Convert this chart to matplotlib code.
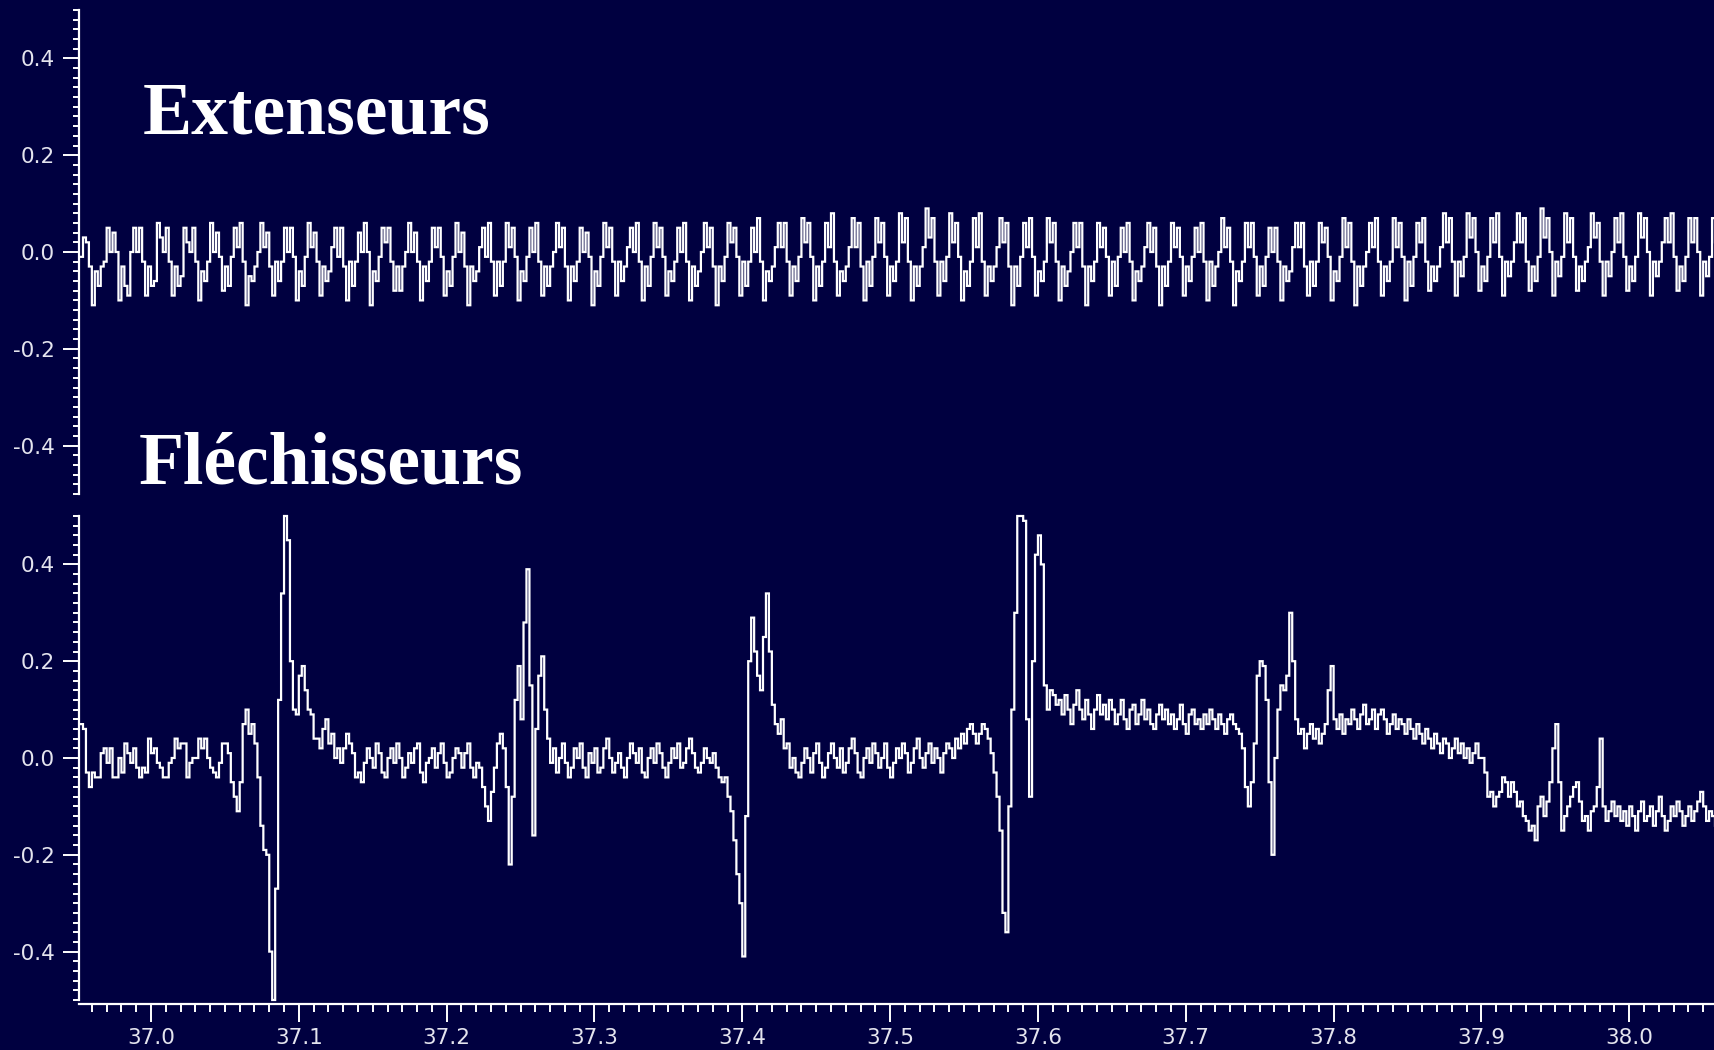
import numpy as np
import matplotlib
matplotlib.use("Agg")
import matplotlib.pyplot as plt
from matplotlib.ticker import MultipleLocator, FormatStrFormatter, FixedLocator

# Both EMG channels are sampled at 500 Hz starting at T0 (seconds)
T0 = 36.952
DT = 0.002

# Extensor channel, hundredths of a unit
extenseurs = [
    -1, 3, 2, -3, -11, -4, -7, -3, -2, 5, 0, 4, 0, -10, -3, -7, -9, 0, 5, 0,
    5, -2, -9, -3, -7, -6, 6, 3, 0, 5, -2,
    -9, -3, -7, -5, 5, 2, 0, 5, -2,
    -10, -4, -6, -2, 6, 0, 4, -1,
    -8, -3, -7, -1, 5, 1, 6, -2,
    -11, -5, -6, -3, 0, 6, 1, 4, -3,
    -9, -2, -6, -2, 5, 0, 5, -1,
    -10, -4, -7, -1, 6, 1, 4, -2,
    -9, -3, -6, -4, 1, 5, -1, 5, -3,
    -10, -2, -7, -2, 4, 0, 6, 0,
    -11, -4, -6, -1, 5, 2, 5, -2,
    -8, -3, -8, -3, 0, 6, 0, 4, -2,
    -10, -3, -6, -2, 5, 1, 5, -1,
    -9, -4, -7, -1, 6, 0, 4, -3,
    -11, -3, -6, -4, 1, 5, -1, 6, -2,
    -9, -2, -7, -2, 6, 1, 5, -1,
    -10, -4, -6, -1, 5, 0, 6, -2,
    -9, -3, -7, -3, 0, 6, 1, 5, -3,
    -10, -3, -6, -2, 5, 0, 4, -1,
    -11, -4, -7, -1, 6, 1, 5, -2,
    -9, -2, -6, -3, 1, 5, 0, 6, -2,
    -10, -3, -7, -1, 6, 1, 5, -1,
    -9, -4, -6, -2, 5, 0, 6, -2,
    -10, -3, -7, -4, 0, 6, 1, 5, -3,
    -11, -3, -6, -1, 6, 2, 5, -1,
    -9, -2, -7, -2, 5, 0, 7, -2,
    -10, -4, -6, -3, 1, 6, 1, 6, -2,
    -9, -3, -6, -1, 7, 2, 6, -1,
    -10, -3, -7, -2, 6, 1, 8, -2,
    -9, -4, -6, -3, 1, 7, 1, 6, -3,
    -10, -2, -7, -1, 7, 2, 6, -1,
    -9, -3, -6, -2, 8, 2, 7, -2,
    -10, -3, -7, -3, 1, 9, 3, 7, -2,
    -9, -2, -6, -1, 8, 2, 6, -1,
    -10, -4, -7, -2, 7, 1, 8, -2,
    -9, -3, -6, -3, 1, 7, 2, 6, -3,
    -11, -3, -7, -1, 6, 1, 7, -1,
    -9, -4, -6, -2, 7, 2, 6, -2,
    -10, -3, -7, -4, 0, 6, 1, 6, -3,
    -11, -3, -6, -2, 6, 1, 5, -1,
    -9, -2, -7, -1, 5, 0, 6, -2,
    -10, -4, -6, -3, 1, 6, 0, 5, -3,
    -11, -3, -7, -2, 6, 1, 5, -1,
    -9, -3, -6, -1, 5, 0, 6, -2,
    -10, -2, -7, -3, 0, 7, 1, 5, -2,
    -11, -4, -6, -2, 6, 1, 6, -1,
    -9, -3, -7, -1, 5, 0, 5, -2,
    -10, -3, -6, -4, 1, 6, 1, 6, -3,
    -9, -2, -7, -2, 6, 2, 5, -1,
    -10, -4, -6, -1, 7, 1, 6, -2,
    -11, -3, -7, -3, 0, 6, 1, 7, -2,
    -9, -3, -6, -2, 7, 1, 6, -1,
    -10, -2, -7, -1, 6, 2, 7, -2,
    -8, -3, -6, -3, 1, 8, 2, 7, -2,
    -9, -2, -5, -1, 8, 3, 7, 0,
    -8, -3, -6, -1, 7, 2, 8, -1,
    -9, -2, -5, -2, 2, 8, 2, 7, -2,
    -8, -3, -6, -1, 9, 3, 7, 0,
    -9, -2, -5, -1, 8, 2, 7, -1,
    -8, -3, -6, -2, 1, 8, 3, 6, -2,
    -9, -2, -5, 0, 7, 2, 8, -1,
    -8, -3, -6, -1, 8, 3, 7, 0,
    -9, -2, -5, -2, 2, 7, 2, 8, -1,
    -8, -3, -6, -1, 7, 2, 7, 0,
    -9, -2, -5, -1, 7, 2,
]

# Flexor channel, hundredths of a unit
flechisseurs = [
    7, 6, -3, -6, -3, -4, -4, 1, 2, -1, 2, -4, -4, 0, -3, 3, 1, -1, 2, -2,
    -4, -2, -3, 4, 1, 2, -1, -2, -4, -4, -1, 0, 4, 2, 3, 3, -4, -1, 0, 0,
    4, 2, 4, 0, -2, -3, -4, -1, 3, 3, 1,
    -5, -8, -11, -5, 7, 10, 5, 7, 3, -4, -14, -19, -20, -40, -50, -27, 12, 34,
    50, 45, 20, 10, 9, 17, 19, 14, 10, 9, 4, 4, 2, 6, 8, 3, 5, 0, 2, -1, 2, 5,
    3, 1, -4,
    -3, -5, -1, 2, 0, -2, 3, 1, -3, -4, 0, 2, -1, 3, 0, -4, -2, 1, -1, 2,
    3, -3, -5, -1, 0, 2, -2, 1, 3, -1, -4, -3, 0, 2, 1, -2, 1, 3, -2, -4, -1,
    -2, -6, -10, -13, -7, -2, 3, 5, 2, -6, -22, -8, 12, 19, 8, 28, 39, 15,
    -16, 6, 17, 21, 10, 4, -1,
    2, -3, 0, 3, -1, -4, -2, 2, 0, 3, -2, -4, 1, -1, 2, -3, -2, 2, 4, 0,
    -3, -1, 1, -2, -4, 0, 3, 1, -1, 2, -3, -4, 0, 2, -1, 3, 1, -2, -4, -1,
    2, 0, 3, -2, -1, 2, 4, 1, -2, -3, -1, 2, 0, -1,
    1, -2, -4, -5, -4, -8, -11, -17, -24, -30, -41, -12, 20, 29, 22, 17, 14,
    25, 34, 22, 11, 7, 5, 8, 2, 3, -2, 0, -3,
    -4, -1, 2, 0, -3, 1, 3, -1, -4, -2, 1, 3, 0, -2, 2, -3, -1, 2, 4, 1,
    -3, -4, 0, 2, -1, 3, 1, -2, 0, 3, -2, -4, -1, 2, 0, 3, 1, -3, -1, 2,
    4, 0, -2, 1, 3, -1, 2, 0, -3, 1, 3, 2, 0, 4, 2, 5, 3, 6, 7, 5, 3,
    5, 7, 6, 4, 1, -3, -8, -15, -32, -36, -10, 10, 30, 50, 50, 49, 8, -8,
    20, 42, 46, 40, 15, 10, 14, 13, 11,
    12, 9, 13, 10, 7, 11, 14, 10, 8, 12, 9, 6, 10, 13, 9, 11, 8, 12, 10, 7,
    9, 12, 8, 6, 10, 11, 7, 9, 12, 8, 10, 7, 6, 9, 11, 8, 10, 7, 9, 6,
    8, 11, 7, 5, 9, 10, 7, 8, 6, 9, 7, 10, 8, 6, 9, 7, 5, 8, 9, 7, 6,
    5, 2, -6, -10, -5, 3, 17, 20, 19, 12, -5, -20, 0, 10, 15, 14, 17, 30, 20,
    8, 5, 6, 2, 5, 7, 4, 6, 3, 5, 7, 14, 19, 8, 6, 9, 5, 8,
    7, 10, 8, 6, 9, 11, 7, 8, 10, 6, 9, 10, 8, 5, 7, 9, 6, 8, 7, 5,
    8, 6, 4, 7, 5, 3, 6, 4, 2, 5, 3, 1, 4, 3, 0, 2, 4, 1, 3, 0, 2, -1, 1, 3, 0,
    0, -3, -8, -7, -10, -8, -7, -4, -5, -8, -5, -7, -10, -9, -12, -13, -15,
    -14, -17, -10, -8, -12, -9, -5, 2, 7, -5, -15, -12, -10, -8, -6, -5, -9,
    -13, -12, -15, -11, -10, -6, 4, -10, -13, -11, -9, -12, -10,
    -13, -11, -14, -10, -12, -15, -11, -9, -13, -12, -10, -14, -11, -8, -12,
    -15, -13, -10, -12, -9, -11, -14, -12, -10, -13, -11, -9, -7, -10, -13,
    -11, -12, -14,
]

titles = ["Extenseurs", "Fléchisseurs"]
x_ticks = [37.0, 37.1, 37.2, 37.3, 37.4, 37.5, 37.6, 37.7, 37.8, 37.9, 38.0]
y_ticks = [-0.4, -0.2, 0.0, 0.2, 0.4]

BG = "#000040"
FG = "#ffffff"
TICK_COLOR = "#e4e4ee"

plt.rcParams["axes.unicode_minus"] = False
plt.rcParams["font.family"] = ["DejaVu Sans"]

W, H = 1715, 1050
fig = plt.figure(figsize=(W / 100, H / 100), dpi=100, facecolor=BG)

left = 79 / W
width = 1 - left
ax_h = 484 / H
ax_top = fig.add_axes([left, (H - 494) / H, width, ax_h])
ax_bot = fig.add_axes([left, (H - 1000) / H, width, ax_h])

xlim = (36.9513, 38.058)

for ax, vals in ((ax_top, extenseurs), (ax_bot, flechisseurs)):
    v = np.asarray(vals, dtype=float) / 100.0
    t = T0 + DT * np.arange(len(v))
    ax.set_facecolor(BG)
    ax.plot(t, v, drawstyle="steps-post", color=FG, lw=1.6, clip_on=False,
            solid_joinstyle="miter")
    ax.set_xlim(*xlim)
    ax.set_ylim(-0.5, 0.5)
    for s in ("top", "right"):
        ax.spines[s].set_visible(False)
    ax.spines["left"].set_color(FG)
    ax.spines["left"].set_linewidth(1.6)
    ax.yaxis.set_major_locator(FixedLocator(y_ticks))
    ax.yaxis.set_minor_locator(MultipleLocator(0.02))
    ax.yaxis.set_major_formatter(FormatStrFormatter("%.1f"))
    ax.tick_params(axis="y", which="major", direction="out", length=11.5,
                   width=1.4, color=FG, labelcolor=TICK_COLOR, labelsize=15.5,
                   pad=6)
    ax.tick_params(axis="y", which="minor", direction="out", length=4.5,
                   width=1.4, color=FG)

# Upper panel has no time axis
ax_top.spines["bottom"].set_visible(False)
ax_top.tick_params(axis="x", which="both", bottom=False, labelbottom=False)

# Time axis of the lower panel
ax_bot.spines["bottom"].set_position(("outward", 3))
ax_bot.spines["bottom"].set_color(FG)
ax_bot.spines["bottom"].set_linewidth(1.6)
ax_bot.xaxis.set_major_locator(FixedLocator(x_ticks))
ax_bot.xaxis.set_minor_locator(MultipleLocator(0.01))
ax_bot.xaxis.set_major_formatter(FormatStrFormatter("%.1f"))
ax_bot.tick_params(axis="x", which="major", direction="out", length=13,
                   width=1.4, color=FG, labelcolor=TICK_COLOR, labelsize=15.5,
                   pad=4)
ax_bot.tick_params(axis="x", which="minor", direction="out", length=6,
                   width=1.4, color=FG)

# Channel titles
title_font = dict(family=["Liberation Serif", "DejaVu Serif"], weight="bold",
                  size=53, color=FG)
fig.text(143 / W, 1 - 133 / H, titles[0], ha="left", va="baseline",
         **title_font)
fig.text(139 / W, 1 - 484 / H, titles[1], ha="left", va="baseline",
         **title_font)

fig.savefig("out.png", dpi=100, facecolor=BG)
